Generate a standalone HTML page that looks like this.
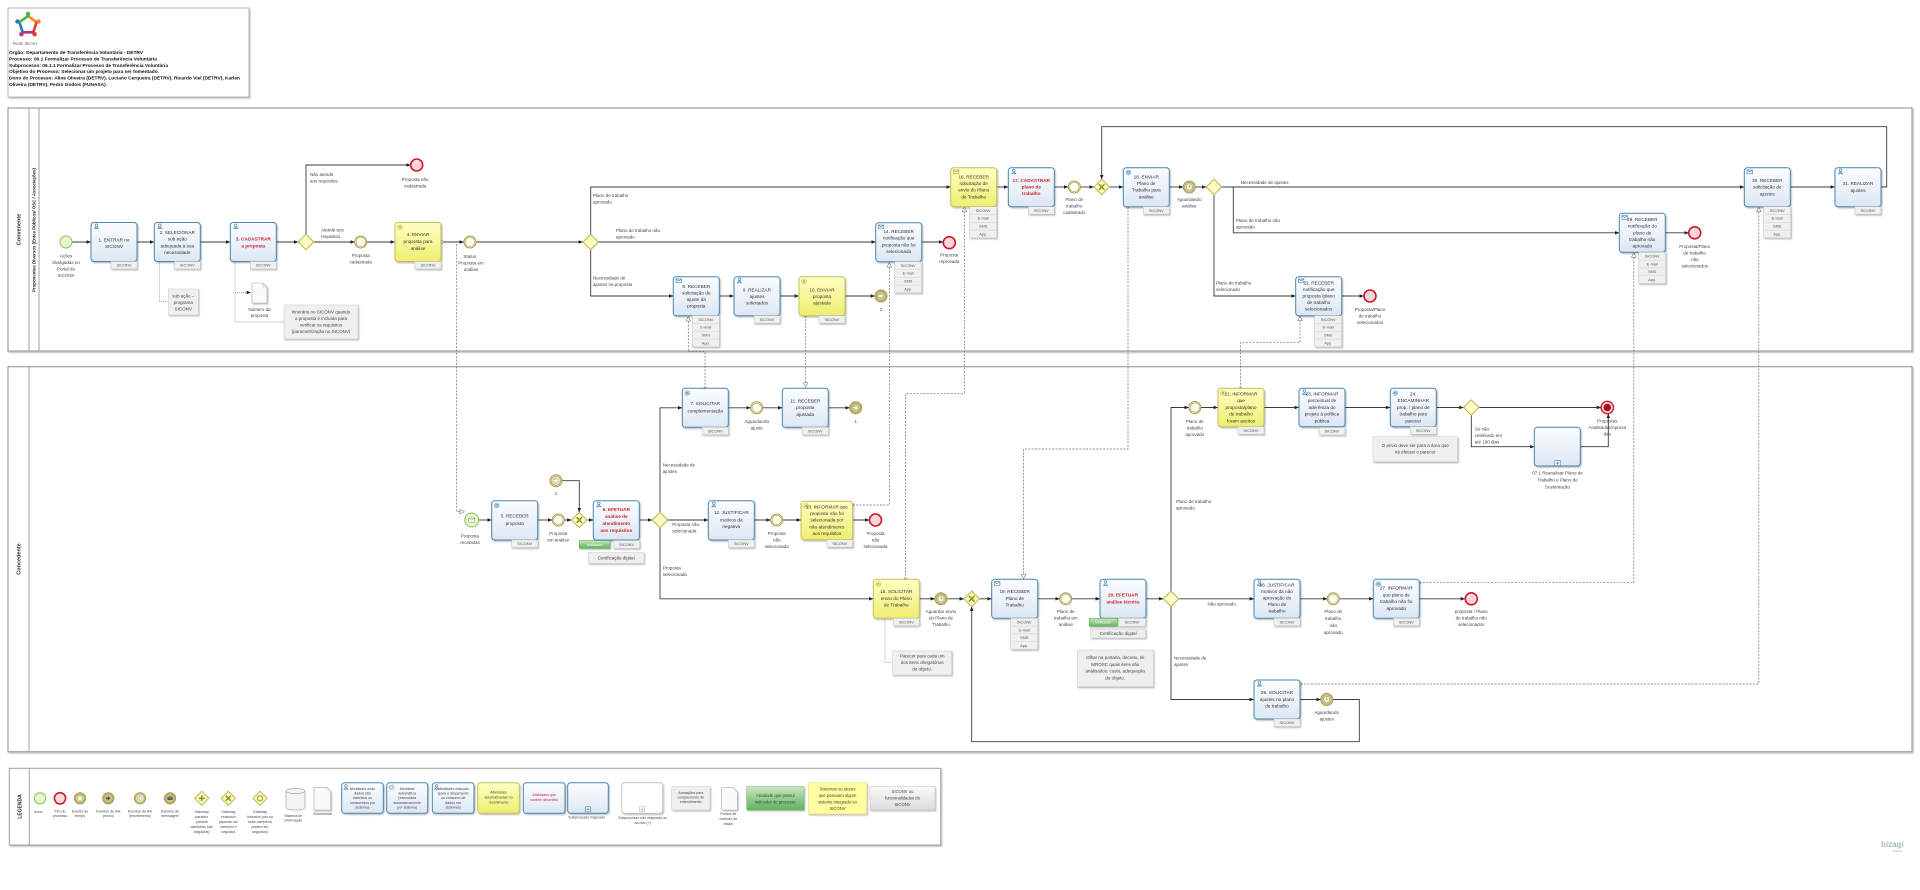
<!DOCTYPE html>
<html><head><meta charset="utf-8"><style>
html,body{margin:0;padding:0;background:#fff;width:1920px;height:890px;overflow:hidden}
svg{display:block}
text{font-family:"Liberation Sans",sans-serif}
.t{fill:url(#gb);stroke:#4a85ae;stroke-width:1}
.ty{fill:url(#gy);stroke:#c4bf5c;stroke-width:1}
.tag{fill:#f0f0f0;stroke:#bdbdbd;stroke-width:.5}
.tx{font-size:4.7px;fill:#333;text-anchor:middle}
.tr{fill:#d3202b;font-weight:bold}
.lb{font-size:4.5px;fill:#444;text-anchor:middle}
.ll{font-size:4.5px;fill:#444;text-anchor:start}
.tg{font-size:3.9px;fill:#555;text-anchor:middle}
.sf{fill:none;stroke:#3a3a3a;stroke-width:.9}
.mf{fill:none;stroke:#6a6a6a;stroke-width:.7;stroke-dasharray:2 1.4}
.as{fill:none;stroke:#888;stroke-width:.7;stroke-dasharray:1 1}
.gw{fill:#fffcc6;stroke:#b9b24a;stroke-width:1}
.ev{fill:#fbfbee;stroke:#a59c4c;stroke-width:1}
.evi{fill:none;stroke:#a59c4c;stroke-width:.6}
.evt{fill:#d8d3a2;stroke:#a59c4c;stroke-width:1}
.st{fill:#e6f6cd;stroke:#8cc063;stroke-width:1}
.en{fill:#fbd6da;stroke:#cc1a2c;stroke-width:1.6}
.nt{fill:#efefef;stroke:#c8c8c8;stroke-width:.5}
.ms{fill:#fff;stroke:#555;stroke-width:.5}
.ic{fill:none;stroke:#3d7fae;stroke-width:.6}
.icy{fill:none;stroke:#a8a43a;stroke-width:.6}
.gx{stroke:#8c9a1e;stroke-width:1.6;fill:none}
.pl{fill:#fff;stroke:#a0a0a0;stroke-width:1.2}
.lg{font-size:3.6px;fill:#444;text-anchor:middle}
.hd{font-size:4.9px;fill:#111;font-weight:bold}
</style></head><body>
<svg width="1920" height="890" viewBox="0 0 1920 890" xmlns="http://www.w3.org/2000/svg">
<defs>
<linearGradient id="gb" x1="0" y1="0" x2="0" y2="1"><stop offset="0" stop-color="#fbfdff"/><stop offset="1" stop-color="#dce7f4"/></linearGradient>
<linearGradient id="gy" x1="0" y1="0" x2="0" y2="1"><stop offset="0" stop-color="#ffffc4"/><stop offset="1" stop-color="#eeee70"/></linearGradient>
<linearGradient id="gg" x1="0" y1="0" x2="0" y2="1"><stop offset="0" stop-color="#c9e8c0"/><stop offset="1" stop-color="#5db35c"/></linearGradient>
<linearGradient id="gs" x1="0" y1="0" x2="0" y2="1"><stop offset="0" stop-color="#fafafa"/><stop offset="1" stop-color="#dcdcdc"/></linearGradient>
<filter id="ds" x="-20%" y="-20%" width="150%" height="150%"><feDropShadow dx="1" dy="1.2" stdDeviation=".7" flood-color="#000" flood-opacity=".28"/></filter>
<marker id="a" markerWidth="4.5" markerHeight="3.6" refX="4.4" refY="1.8" orient="auto" markerUnits="userSpaceOnUse"><path d="M0,0 L4.5,1.8 L0,3.6 z" fill="#222"/></marker>
<marker id="m" markerWidth="5.5" markerHeight="5.5" refX="5" refY="2.75" orient="auto" markerUnits="userSpaceOnUse"><path d="M0.4,0.4 L5,2.75 L0.4,5.1 z" fill="#fff" stroke="#555" stroke-width=".5"/></marker>
</defs>

<!-- HEADER -->
<rect x="8" y="8" width="241" height="89" fill="#fff" stroke="#a8a8a8" stroke-width=".8" filter="url(#ds)"/>
<g stroke-linecap="round" stroke-width="2.6">
<line x1="28" y1="16" x2="36.6" y2="22.2" stroke="#f08a24"/>
<line x1="36.6" y1="22.2" x2="33.3" y2="32.3" stroke="#e23b2e"/>
<line x1="33.3" y1="32.3" x2="22.7" y2="32.3" stroke="#b8327e"/>
<line x1="22.7" y1="32.3" x2="19.4" y2="22.2" stroke="#2c78c0"/>
<line x1="19.4" y1="22.2" x2="28" y2="16" stroke="#4cae4c"/>
</g>
<circle cx="28" cy="14" r="2.2" fill="#4cae4c"/><circle cx="38.6" cy="21.5" r="2.2" fill="#f08a24"/><circle cx="34.6" cy="34.2" r="2.2" fill="#e23b2e"/><circle cx="21.4" cy="34.2" r="2.2" fill="#b8327e"/><circle cx="17.4" cy="21.5" r="2.2" fill="#2c78c0"/>
<text x="13" y="45" font-size="4.3" fill="#666">Rede Siconv</text>
<text class="hd" x="9" y="54" textLength="134" lengthAdjust="spacingAndGlyphs">Órgão: Departamento de Transferência Voluntária - DETRV</text>
<text class="hd" x="9" y="60.4" textLength="148" lengthAdjust="spacingAndGlyphs">Processo: 06.1 Formalizar Processo de Transferência Voluntária</text>
<text class="hd" x="9" y="66.8" textLength="159" lengthAdjust="spacingAndGlyphs">Subprocesso: 06.1.1 Formalizar Processo de Transferência Voluntária</text>
<text class="hd" x="9" y="73.2" textLength="150" lengthAdjust="spacingAndGlyphs">Objetivo do Processo: Selecionar um projeto para ser fomentado.</text>
<text class="hd" x="9" y="79.6" textLength="231" lengthAdjust="spacingAndGlyphs">Dono do Processo: Aline Oliveira (DETRV), Luciano Cerqueira (DETRV), Ricardo Viel (DETRV), Karlen</text>
<text class="hd" x="9" y="86" textLength="98" lengthAdjust="spacingAndGlyphs">Oliveira (DETRV), Pedro Godois (FUNASA).</text>

<!-- POOLS -->
<rect class="pl" x="8" y="108" width="1904" height="243" filter="url(#ds)"/>
<line x1="29" y1="108" x2="29" y2="351" stroke="#a0a0a0" stroke-width="1"/>
<line x1="39" y1="108" x2="39" y2="351" stroke="#a0a0a0" stroke-width="1"/>
<text transform="translate(20.3,229.5) rotate(-90)" text-anchor="middle" font-size="5.5" font-weight="bold" fill="#222">Convenente</text>
<text transform="translate(35.6,230) rotate(-90)" text-anchor="middle" font-size="4.2" font-weight="bold" fill="#222" textLength="124" lengthAdjust="spacingAndGlyphs">Proponentes Diversos (Entes Públicos/ OSC / Associações)</text>
<rect class="pl" x="8" y="366.7" width="1904" height="385" filter="url(#ds)"/>
<line x1="29" y1="366.7" x2="29" y2="751.7" stroke="#a0a0a0" stroke-width="1"/>
<text transform="translate(20.3,559) rotate(-90)" text-anchor="middle" font-size="5.5" font-weight="bold" fill="#222">Concedente</text>

<!-- SEQUENCE FLOWS -->
<g class="sf" marker-end="url(#a)">
<path d="M72 242 H91"/><path d="M137 242 H154.3"/><path d="M200.3 242 H230.3"/><path d="M276.3 242 H298.3"/>
<path d="M306 234.3 V165 H410.7"/><path d="M313.7 242 H354.7"/><path d="M366.7 242 H395"/><path d="M441 242 H464"/>
<path d="M476 242 H583"/><path d="M590.7 234.3 V187 H950.7"/><path d="M598.4 242 H875.7"/><path d="M590.7 249.7 V296 H673.3"/>
<path d="M719.3 296 H734"/><path d="M780 296 H799"/><path d="M845 296 H875"/><path d="M921.7 242 H943.3"/>
<path d="M996.7 187 H1008.3"/><path d="M1054.3 187 H1068.3"/><path d="M1080.3 187 H1094"/>
<path d="M1881 187 H1886.7 V126.7 H1101.7 V179.3"/>
<path d="M1109.4 187 H1123.3"/><path d="M1169.3 187 H1183.3"/><path d="M1195.3 187 H1206.3"/><path d="M1221.7 187 H1744.3"/>
<path d="M1233.3 187 V232.8 H1619.3"/><path d="M1214 194.7 V296 H1295.7"/><path d="M1341.7 296 H1364"/>
<path d="M1665.7 232.8 H1688.7"/><path d="M1790.7 187 H1835"/>
<path d="M478.7 520 H491.7"/><path d="M537.7 520 H552.3"/><path d="M564.3 520 H571.6"/><path d="M562 480.7 H579.3 V512.3"/>
<path d="M587 520 H593.3"/><path d="M639.3 520 H652.3"/><path d="M667.7 520 H708.3"/>
<path d="M660 512.3 V407.8 H682.3"/><path d="M660 527.7 V598.8 H873.3"/>
<path d="M728.3 407.8 H750.7"/><path d="M762.7 407.8 H782.3"/><path d="M828.3 407.8 H849.7"/>
<path d="M754.3 520 H770.7"/><path d="M782.7 520 H801"/><path d="M852.7 520 H869.5"/>
<path d="M919.3 598.8 H935"/><path d="M947 598.8 H964"/><path d="M979.4 598.8 H991.7"/><path d="M1037.7 598.8 H1059.7"/>
<path d="M1071.7 598.8 H1100"/><path d="M1146 598.8 H1163.3"/><path d="M1178.7 598.8 H1254"/>
<path d="M1171 591.1 V407.5 H1188.8"/><path d="M1200.8 407.5 H1218"/><path d="M1264 407.5 H1299"/><path d="M1345 407.5 H1390.3"/>
<path d="M1436.3 407.5 H1463.6"/><path d="M1479 407.5 H1601.1"/><path d="M1471.3 415.2 V446.7 H1534.3"/><path d="M1580.3 446.7 H1608.3 V413.7"/>
<path d="M1300 598.8 H1327.3"/><path d="M1339.3 598.8 H1373.3"/><path d="M1419.3 598.8 H1465.1"/>
<path d="M1171 606.5 V699.5 H1254"/><path d="M1300 699.5 H1320.7"/>
<path d="M1332.7 699.5 H1359.3 V741.7 H971.7 V606.5"/>
</g>

<!-- MESSAGE FLOWS -->
<g class="mf" marker-end="url(#m)">
<path d="M456.7 244 V511.7 H464.5"/>
<path d="M852.7 505 H889.3 V262.5"/>
<path d="M705 388.3 V351.7 H688.3 V316.5"/>
<path d="M805.7 315.7 V387.3"/>
<path d="M905.5 579.3 V393.3 H964.4 V207.2"/>
<path d="M1128 206.7 V449 H1023.6 V578.8"/>
<path d="M1240.6 388.3 V342.7 H1300 V316.2"/>
<path d="M1419.6 582.7 H1633.8 V252.8"/>
<path d="M1300.7 684 H1758.8 V207.2"/>
</g>
<g class="ms"><circle cx="442.5" cy="242" r="1.3"/><circle cx="852.7" cy="505" r="1.3"/><circle cx="705" cy="388.3" r="1.3"/><circle cx="805.7" cy="315.7" r="1.3"/><circle cx="905.5" cy="579.3" r="1.3"/><circle cx="1128" cy="206.7" r="1.3"/><circle cx="1240.6" cy="388.3" r="1.3"/><circle cx="1419.6" cy="582.7" r="1.3"/><circle cx="1300.7" cy="684" r="1.3"/></g>

<!-- ASSOCIATIONS -->
<path class="as" d="M159.3 261.5 V301.7 H168.3"/>
<path class="as" d="M235 261.5 V322 H284"/>
<path class="as" d="M235 292.5 H251" marker-end="url(#a)"/>
<path class="as" d="M885 618.3 V662.7 H892.7"/>

<!-- TOP: events & gateways -->
<circle class="st" cx="66" cy="242" r="6"/>
<text class="lb"><tspan x="66" y="257.5">Ações</tspan><tspan x="66" y="264">divulgadas no</tspan><tspan x="66" y="270.5">Portal do</tspan><tspan x="66" y="277">SICONV</tspan></text>
<path class="gw" d="M306 234.3 L313.7 242 L306 249.7 L298.3 242 Z"/>
<text class="ll"><tspan x="310" y="176">Não atende</tspan><tspan x="310" y="182.5">aos requisitos</tspan></text>
<text class="ll"><tspan x="321" y="231.5">Atende aos</tspan><tspan x="321" y="238">requisitos</tspan></text>
<circle class="en" cx="416.7" cy="165" r="6"/>
<text class="lb"><tspan x="415" y="181">Proposta não</tspan><tspan x="415" y="187.5">cadastrada</tspan></text>
<circle class="ev" cx="360.7" cy="242" r="6"/><circle class="evi" cx="360.7" cy="242" r="4.7"/>
<text class="lb"><tspan x="360.7" y="257">Proposta</tspan><tspan x="360.7" y="263.5">cadastrada</tspan></text>
<circle class="ev" cx="470" cy="242" r="6"/><circle class="evi" cx="470" cy="242" r="4.7"/>
<text class="lb"><tspan x="471" y="258">Status :</tspan><tspan x="471" y="264.5">Proposta em</tspan><tspan x="471" y="271">análise</tspan></text>
<path class="gw" d="M590.7 234.3 L598.4 242 L590.7 249.7 L583 242 Z"/>
<text class="ll"><tspan x="593" y="197">Plano de trabalho</tspan><tspan x="593" y="203.5">aprovado</tspan></text>
<text class="ll"><tspan x="616" y="232">Plano de trabalho não</tspan><tspan x="616" y="238.5">aprovado</tspan></text>
<text class="ll"><tspan x="593" y="279.5">Necessidade de</tspan><tspan x="593" y="286">ajustes na proposta</tspan></text>
<circle cx="881" cy="296" r="6" fill="#cbc58c" stroke="#a59c4c" stroke-width="1"/><circle class="evi" cx="881" cy="296" r="4.7"/>
<path d="M878 295 h2.5 v-1.8 l3 2.8 l-3 2.8 v-1.8 h-2.5 z" fill="#fff" stroke="#8a8240" stroke-width=".3"/>
<text class="lb" x="881" y="311">2</text>
<circle class="en" cx="949.3" cy="242.7" r="6"/>
<text class="lb"><tspan x="949.3" y="256.5">Proposta</tspan><tspan x="949.3" y="263">reprovada</tspan></text>
<circle class="ev" cx="1074.3" cy="187" r="6"/><circle class="evi" cx="1074.3" cy="187" r="4.7"/>
<text class="lb"><tspan x="1074.3" y="201">Plano de</tspan><tspan x="1074.3" y="207.5">trabalho</tspan><tspan x="1074.3" y="214">cadastrado</tspan></text>
<path class="gw" d="M1101.7 179.3 L1109.4 187 L1101.7 194.7 L1094 187 Z"/>
<path class="gx" d="M1098.9 184.2 L1104.5 189.8 M1104.5 184.2 L1098.9 189.8"/>
<circle class="evt" cx="1189.3" cy="187" r="6"/><circle class="evi" cx="1189.3" cy="187" r="4.7"/><circle cx="1189.3" cy="187" r="3.1" fill="#f3f1dc" stroke="#8a8040" stroke-width=".4"/><path d="M1189.3 185 V187 H1190.8" stroke="#6a6030" stroke-width=".4" fill="none"/>
<text class="lb"><tspan x="1189.3" y="201">Aguardando</tspan><tspan x="1189.3" y="207.5">análise</tspan></text>
<path class="gw" d="M1214 179.3 L1221.7 187 L1214 194.7 L1206.3 187 Z"/>
<text class="ll" x="1240.7" y="184">Necessidade de ajustes</text>
<text class="ll"><tspan x="1236" y="222">Plano de trabalho não</tspan><tspan x="1236" y="228.5">aprovado</tspan></text>
<text class="ll"><tspan x="1216" y="284.5">Plano de trabalho</tspan><tspan x="1216" y="291">selecionado</tspan></text>
<circle class="en" cx="1370" cy="296" r="6"/>
<text class="lb"><tspan x="1370" y="311">Proposta/Plano</tspan><tspan x="1370" y="317.5">de trabalho</tspan><tspan x="1370" y="324">selecionados</tspan></text>
<circle class="en" cx="1694.7" cy="232.8" r="6"/>
<text class="lb"><tspan x="1694.7" y="248">Proposta/Plano</tspan><tspan x="1694.7" y="254.5">de trabalho</tspan><tspan x="1694.7" y="261">não</tspan><tspan x="1694.7" y="267.5">selecionados</tspan></text>

<!-- TOP annotations -->
<rect class="nt" x="168.3" y="289" width="30" height="26" filter="url(#ds)"/>
<text class="lb"><tspan x="183.3" y="297.5">sub ação –</tspan><tspan x="183.3" y="304">programa</tspan><tspan x="183.3" y="310.5">SICONV</tspan></text>
<path d="M252 283 H263 L267 287 V303 H252 Z" fill="#fafafa" stroke="#aaa" stroke-width=".6" filter="url(#ds)"/><path d="M263 283 V287 H267" fill="none" stroke="#aaa" stroke-width=".5"/>
<text class="lb"><tspan x="259.5" y="311">Número da</tspan><tspan x="259.5" y="317">proposta</tspan></text>
<rect class="nt" x="284" y="305" width="74" height="34" filter="url(#ds)"/>
<text class="lb"><tspan x="321" y="313.5">Itinerário no SICONV quando</tspan><tspan x="321" y="320">a proposta é incluída para</tspan><tspan x="321" y="326.5">verificar os requisitos</tspan><tspan x="321" y="333">(parametrização no SICONV)</tspan></text>

<!-- TOP TASKS -->
<g filter="url(#ds)">
<rect class="t" x="91" y="222.5" width="46" height="39" rx="3"/>
<rect class="t" x="154.3" y="222.5" width="46" height="39" rx="3"/>
<rect class="t" x="230.3" y="222.5" width="46" height="39" rx="3"/>
<rect class="ty" x="395" y="222.5" width="46" height="39" rx="3"/>
<rect class="t" x="673.3" y="276.7" width="46" height="39" rx="3"/>
<rect class="t" x="734" y="276.7" width="46" height="39" rx="3"/>
<rect class="ty" x="799" y="276.7" width="46" height="39" rx="3"/>
<rect class="t" x="875.7" y="222.7" width="46" height="39" rx="3"/>
<rect class="ty" x="950.7" y="167.7" width="46" height="39" rx="3"/>
<rect class="t" x="1008.3" y="167.7" width="46" height="39" rx="3"/>
<rect class="t" x="1123.3" y="167.7" width="46" height="39" rx="3"/>
<rect class="t" x="1295.7" y="276.7" width="46" height="39" rx="3"/>
<rect class="t" x="1619.3" y="213.3" width="46" height="39" rx="3"/>
<rect class="t" x="1744.3" y="167.7" width="46" height="39" rx="3"/>
<rect class="t" x="1835" y="167.7" width="46" height="39" rx="3"/>
</g>
<!-- icons top -->
<g class="ic">
<circle cx="96.5" cy="225.2" r="1.3"/><path d="M94.4 228.6 Q96.5 225.8 98.6 228.6 Z"/>
<circle cx="159.8" cy="225.2" r="1.3"/><path d="M157.7 228.6 Q159.8 225.8 161.9 228.6 Z"/>
<circle cx="235.8" cy="225.2" r="1.3"/><path d="M233.7 228.6 Q235.8 225.8 237.9 228.6 Z"/>
<rect x="676" y="279" width="5.5" height="3.8"/><path d="M676 279 l2.75 2 l2.75 -2"/>
<circle cx="739.5" cy="279.4" r="1.3"/><path d="M737.4 282.8 Q739.5 280 741.6 282.8 Z"/>
<rect x="878.4" y="225" width="5.5" height="3.8"/><path d="M878.4 225 l2.75 2 l2.75 -2"/>
<circle cx="1013.8" cy="170.4" r="1.3"/><path d="M1011.7 173.8 Q1013.8 171 1015.9 173.8 Z"/>
<circle cx="1128.5" cy="172.5" r="2.4" fill="#cfe0ef" stroke-dasharray="1 .6"/><circle cx="1128.5" cy="172.5" r=".9"/>
<rect x="1298.4" y="279" width="5.5" height="3.8"/><path d="M1298.4 279 l2.75 2 l2.75 -2"/>
<rect x="1622" y="215.6" width="5.5" height="3.8"/><path d="M1622 215.6 l2.75 2 l2.75 -2"/>
<rect x="1747" y="170" width="5.5" height="3.8"/><path d="M1747 170 l2.75 2 l2.75 -2"/>
<circle cx="1840.5" cy="170.4" r="1.3"/><path d="M1838.4 173.8 Q1840.5 171 1842.6 173.8 Z"/>
</g>
<g class="icy">
<circle cx="400" cy="227.3" r="2.4" fill="#f4f0a0" stroke-dasharray="1 .6"/><circle cx="400" cy="227.3" r=".9"/>
<circle cx="804" cy="281.5" r="2.4" fill="#f4f0a0" stroke-dasharray="1 .6"/><circle cx="804" cy="281.5" r=".9"/>
<rect x="953.4" y="170" width="5.5" height="3.8"/><path d="M953.4 170 l2.75 2 l2.75 -2"/>
</g>
<!-- top task text -->
<text class="tx"><tspan x="114" y="241.5">1. ENTRAR no</tspan><tspan x="114" y="248">SICONV</tspan></text>
<text class="tx"><tspan x="177.3" y="234">2. SELECIONAR</tspan><tspan x="177.3" y="240.5">sub ação</tspan><tspan x="177.3" y="247.5">adequada à sua</tspan><tspan x="177.3" y="254.2">necessidade</tspan></text>
<text class="tx tr"><tspan x="253.3" y="240.5">3. CADASTRAR</tspan><tspan x="253.3" y="247.5">a proposta</tspan></text>
<text class="tx"><tspan x="418" y="235.8">4. ENVIAR</tspan><tspan x="418" y="242.8">proposta para</tspan><tspan x="418" y="249.8">análise</tspan></text>
<text class="tx"><tspan x="696.3" y="288">8. RECEBER</tspan><tspan x="696.3" y="294.5">solicitação de</tspan><tspan x="696.3" y="301">ajuste da</tspan><tspan x="696.3" y="307.5">proposta</tspan></text>
<text class="tx"><tspan x="757" y="291.5">9. REALIZAR</tspan><tspan x="757" y="298">ajustes</tspan><tspan x="757" y="304.5">solicitados</tspan></text>
<text class="tx"><tspan x="822" y="291.5">10. ENVIAR</tspan><tspan x="822" y="298">proposta</tspan><tspan x="822" y="304.5">ajustada</tspan></text>
<text class="tx"><tspan x="898.7" y="233">14. RECEBER</tspan><tspan x="898.7" y="239.5">notificação que</tspan><tspan x="898.7" y="246.3">proposta não foi</tspan><tspan x="898.7" y="253">selecionada</tspan></text>
<text class="tx"><tspan x="973.7" y="178.5">16. RECEBER</tspan><tspan x="973.7" y="185">solicitação de</tspan><tspan x="973.7" y="191.7">envio do Plano</tspan><tspan x="973.7" y="198.5">de Trabalho</tspan></text>
<text class="tx tr"><tspan x="1031.3" y="182">17. CADASTRAR</tspan><tspan x="1031.3" y="188.5">plano de</tspan><tspan x="1031.3" y="195">trabalho</tspan></text>
<text class="tx"><tspan x="1146.3" y="178.5">18. ENVIAR</tspan><tspan x="1146.3" y="185">Plano de</tspan><tspan x="1146.3" y="191.7">Trabalho  para</tspan><tspan x="1146.3" y="198.5">análise</tspan></text>
<text class="tx"><tspan x="1318.7" y="284.5">22. RECEBER</tspan><tspan x="1318.7" y="291">notificação que</tspan><tspan x="1318.7" y="297.5">proposta /plano</tspan><tspan x="1318.7" y="304.1">de trabalho</tspan><tspan x="1318.7" y="310.7">selecionados</tspan></text>
<text class="tx"><tspan x="1642.3" y="221">28. RECEBER</tspan><tspan x="1642.3" y="227.5">notificação do</tspan><tspan x="1642.3" y="234.3">plano de</tspan><tspan x="1642.3" y="241">trabalho não</tspan><tspan x="1642.3" y="247.7">aprovado</tspan></text>
<text class="tx"><tspan x="1767.3" y="182">30. RECEBER</tspan><tspan x="1767.3" y="188.5">solicitação de</tspan><tspan x="1767.3" y="195.5">ajustes</tspan></text>
<text class="tx"><tspan x="1858" y="185">31. REALIZAR</tspan><tspan x="1858" y="192">ajustes</tspan></text>

<!-- TOP TAGS -->
<g filter="url(#ds)">
<rect class="tag" x="111" y="261.5" width="26" height="7.5"/>
<rect class="tag" x="174.3" y="261.5" width="26" height="7.5"/>
<rect class="tag" x="250.3" y="261.5" width="26" height="7.5"/>
<rect class="tag" x="415" y="261.5" width="26" height="7.5"/>
<rect class="tag" x="692.3" y="315.7" width="27" height="31.2"/>
<rect class="tag" x="754" y="315.7" width="26" height="7.5"/>
<rect class="tag" x="819" y="315.7" width="26" height="7.5"/>
<rect class="tag" x="894.7" y="261.7" width="27" height="31.2"/>
<rect class="tag" x="969.7" y="206.7" width="27" height="31.2"/>
<rect class="tag" x="1028.3" y="206.7" width="26" height="7.5"/>
<rect class="tag" x="1143.3" y="206.7" width="26" height="7.5"/>
<rect class="tag" x="1314.7" y="315.7" width="27" height="31.2"/>
<rect class="tag" x="1638.7" y="252.3" width="27" height="31.2"/>
<rect class="tag" x="1763.7" y="206.7" width="27" height="31.2"/>
<rect class="tag" x="1855" y="206.7" width="26" height="7.5"/>
</g>
<g stroke="#c8c8c8" stroke-width=".4">
<path d="M692.3 323.5 H719.3 M692.3 331.3 H719.3 M692.3 339.1 H719.3"/>
<path d="M894.7 269.5 H921.7 M894.7 277.3 H921.7 M894.7 285.1 H921.7"/>
<path d="M969.7 214.5 H996.7 M969.7 222.3 H996.7 M969.7 230.1 H996.7"/>
<path d="M1314.7 323.5 H1341.7 M1314.7 331.3 H1341.7 M1314.7 339.1 H1341.7"/>
<path d="M1638.7 260.1 H1665.7 M1638.7 267.9 H1665.7 M1638.7 275.7 H1665.7"/>
<path d="M1763.7 214.5 H1790.7 M1763.7 222.3 H1790.7 M1763.7 230.1 H1790.7"/>
</g>
<g class="tg">
<text x="124" y="266.6">SICONV</text><text x="187.3" y="266.6">SICONV</text><text x="263.3" y="266.6">SICONV</text><text x="428" y="266.6">SICONV</text>
<text x="705.8" y="320.9">SICONV</text><text x="705.8" y="328.7">E-mail</text><text x="705.8" y="336.5">SMS</text><text x="705.8" y="344.3">App.</text>
<text x="767" y="320.8">SICONV</text><text x="832" y="320.8">SICONV</text>
<text x="908.2" y="266.9">SICONV</text><text x="908.2" y="274.7">E-mail</text><text x="908.2" y="282.5">SMS</text><text x="908.2" y="290.3">App.</text>
<text x="983.2" y="211.9">SICONV</text><text x="983.2" y="219.7">E-mail</text><text x="983.2" y="227.5">SMS</text><text x="983.2" y="235.3">App.</text>
<text x="1041.3" y="211.8">SICONV</text><text x="1156.3" y="211.8">SICONV</text>
<text x="1328.2" y="320.9">SICONV</text><text x="1328.2" y="328.7">E-mail</text><text x="1328.2" y="336.5">SMS</text><text x="1328.2" y="344.3">App.</text>
<text x="1652.2" y="257.5">SICONV</text><text x="1652.2" y="265.3">E-mail</text><text x="1652.2" y="273.1">SMS</text><text x="1652.2" y="280.9">App.</text>
<text x="1777.2" y="211.9">SICONV</text><text x="1777.2" y="219.7">E-mail</text><text x="1777.2" y="227.5">SMS</text><text x="1777.2" y="235.3">App.</text>
<text x="1868" y="211.8">SICONV</text>
</g>

<!-- BOTTOM events & gateways -->
<circle class="st" cx="471.7" cy="520" r="7"/><rect x="468.7" y="518" width="6" height="4.2" fill="#fff" stroke="#6a9a40" stroke-width=".5"/><path d="M468.7 518 l3 2.2 l3 -2.2" fill="none" stroke="#6a9a40" stroke-width=".5"/>
<text class="lb"><tspan x="470" y="537.5">Proposta</tspan><tspan x="470" y="544">recebidas</tspan></text>
<circle class="ev" cx="558.3" cy="520" r="6"/><circle class="evi" cx="558.3" cy="520" r="4.7"/>
<text class="lb"><tspan x="558.3" y="535">Proposta</tspan><tspan x="558.3" y="541.5">em análise</tspan></text>
<path class="gw" d="M579.3 512.3 L587 520 L579.3 527.7 L571.6 520 Z"/>
<path class="gx" d="M576.5 517.2 L582.1 522.8 M582.1 517.2 L576.5 522.8"/>
<circle cx="556" cy="480.7" r="6" fill="#e6e2bd" stroke="#a59c4c" stroke-width="1"/><circle class="evi" cx="556" cy="480.7" r="4.7"/>
<path d="M553 479.7 h2.5 v-1.8 l3 2.8 l-3 2.8 v-1.8 h-2.5 z" fill="#fff" stroke="#8a8240" stroke-width=".3"/>
<text class="lb" x="556" y="495">1</text>
<path class="gw" d="M660 512.3 L667.7 520 L660 527.7 L652.3 520 Z"/>
<text class="ll"><tspan x="672.3" y="526">Proposta não</tspan><tspan x="672.3" y="532.5">selecionada</tspan></text>
<text class="ll"><tspan x="662.7" y="466.5">Necessidade de</tspan><tspan x="662.7" y="473">ajustes</tspan></text>
<text class="ll"><tspan x="662.7" y="569.5">Proposta</tspan><tspan x="662.7" y="576">selecionada</tspan></text>
<circle class="ev" cx="756.7" cy="407.8" r="6"/><circle class="evi" cx="756.7" cy="407.8" r="4.7"/>
<text class="lb"><tspan x="756.7" y="423">Aguardando</tspan><tspan x="756.7" y="429.5">ajuste</tspan></text>
<circle cx="855.7" cy="407.8" r="6" fill="#cbc58c" stroke="#a59c4c" stroke-width="1"/><circle class="evi" cx="855.7" cy="407.8" r="4.7"/>
<path d="M852.7 406.8 h2.5 v-1.8 l3 2.8 l-3 2.8 v-1.8 h-2.5 z" fill="#fff" stroke="#8a8240" stroke-width=".3"/>
<text class="lb" x="855.7" y="423">1</text>
<circle class="ev" cx="776.7" cy="520" r="6"/><circle class="evi" cx="776.7" cy="520" r="4.7"/>
<text class="lb"><tspan x="776.7" y="535">Proposta</tspan><tspan x="776.7" y="541.5">não</tspan><tspan x="776.7" y="548">selecionada</tspan></text>
<circle class="en" cx="875.5" cy="520" r="6"/>
<text class="lb"><tspan x="875.5" y="535">Proposta</tspan><tspan x="875.5" y="541.5">não</tspan><tspan x="875.5" y="548">selecionada</tspan></text>
<circle class="evt" cx="941" cy="598.8" r="6"/><circle class="evi" cx="941" cy="598.8" r="4.7"/><circle cx="941" cy="598.8" r="3.1" fill="#f3f1dc" stroke="#8a8040" stroke-width=".4"/><path d="M941 596.8 V598.8 H942.5" stroke="#6a6030" stroke-width=".4" fill="none"/>
<text class="lb"><tspan x="941" y="613">Aguardar envio</tspan><tspan x="941" y="619.5">do Plano de</tspan><tspan x="941" y="626">Trabalho</tspan></text>
<path class="gw" d="M971.7 591.1 L979.4 598.8 L971.7 606.5 L964 598.8 Z"/>
<path class="gx" d="M968.9 596 L974.5 601.6 M974.5 596 L968.9 601.6"/>
<circle class="ev" cx="1065.7" cy="598.8" r="6"/><circle class="evi" cx="1065.7" cy="598.8" r="4.7"/>
<text class="lb"><tspan x="1065.7" y="613">Plano de</tspan><tspan x="1065.7" y="619.5">trabalho em</tspan><tspan x="1065.7" y="626">análise</tspan></text>
<path class="gw" d="M1171 591.1 L1178.7 598.8 L1171 606.5 L1163.3 598.8 Z"/>
<text class="lb" x="1221.7" y="605.5">Não aprovado</text>
<text class="ll"><tspan x="1176" y="503">Plano de trabalho</tspan><tspan x="1176" y="509.5">aprovado</tspan></text>
<text class="ll"><tspan x="1174" y="659.5">Necessidade de</tspan><tspan x="1174" y="666">ajustes</tspan></text>
<circle class="ev" cx="1194.8" cy="407.5" r="6"/><circle class="evi" cx="1194.8" cy="407.5" r="4.7"/>
<text class="lb"><tspan x="1194.8" y="423">Plano de</tspan><tspan x="1194.8" y="429.5">trabalho</tspan><tspan x="1194.8" y="436">aprovado</tspan></text>
<path class="gw" d="M1471.3 399.8 L1479 407.5 L1471.3 415.2 L1463.6 407.5 Z"/>
<circle cx="1607.3" cy="407.5" r="6.2" fill="#fbd6da" stroke="#cc1a2c" stroke-width="1.4"/><circle cx="1607.3" cy="407.5" r="3.8" fill="#a8101c"/>
<text class="lb"><tspan x="1607.3" y="422.5">Propostas</tspan><tspan x="1607.3" y="429">Analisadas/Aprova</tspan><tspan x="1607.3" y="435.5">das</tspan></text>
<text class="ll"><tspan x="1474.7" y="430.5">Se não</tspan><tspan x="1474.7" y="437">celebrado em</tspan><tspan x="1474.7" y="443.5">até 180 dias</tspan></text>
<circle class="ev" cx="1333.3" cy="598.8" r="6"/><circle class="evi" cx="1333.3" cy="598.8" r="4.7"/>
<text class="lb"><tspan x="1333.3" y="613">Plano de</tspan><tspan x="1333.3" y="620">trabalho</tspan><tspan x="1333.3" y="627">não</tspan><tspan x="1333.3" y="634">aprovado</tspan></text>
<circle class="en" cx="1471.3" cy="598.8" r="6"/>
<text class="lb"><tspan x="1471.3" y="613">proposta / Plano</tspan><tspan x="1471.3" y="619.5">de trabalho não</tspan><tspan x="1471.3" y="626">selecionados</tspan></text>
<circle class="evt" cx="1326.7" cy="699.5" r="6"/><circle class="evi" cx="1326.7" cy="699.5" r="4.7"/><circle cx="1326.7" cy="699.5" r="3.1" fill="#f3f1dc" stroke="#8a8040" stroke-width=".4"/><path d="M1326.7 697.5 V699.5 H1328.2" stroke="#6a6030" stroke-width=".4" fill="none"/>
<text class="lb"><tspan x="1326.7" y="714">Aguardando</tspan><tspan x="1326.7" y="720.5">ajustes</tspan></text>

<!-- BOTTOM notes -->
<rect class="nt" x="588.3" y="552.7" width="55.7" height="10.6" filter="url(#ds)"/>
<text class="lb" x="616.2" y="559.6">Certificação digital</text>
<rect class="nt" x="1090.7" y="629" width="55" height="9" filter="url(#ds)"/>
<text class="lb" x="1118.2" y="635">Certificação digital</text>
<rect class="nt" x="892.7" y="651" width="59" height="24" filter="url(#ds)"/>
<text class="lb"><tspan x="922.2" y="657.5">Parecer para cada um</tspan><tspan x="922.2" y="664">dos itens obrigatórios</tspan><tspan x="922.2" y="670.5">do objeto.</tspan></text>
<rect class="nt" x="1077.3" y="650" width="76" height="36.7" filter="url(#ds)"/>
<text class="lb"><tspan x="1115.3" y="659">Olhar na portaria, decreto, lei</tspan><tspan x="1115.3" y="665.8">MROSC  quais itens são</tspan><tspan x="1115.3" y="672.5">analisados: custo, adequação</tspan><tspan x="1115.3" y="679.3">do objeto.</tspan></text>
<rect class="nt" x="1373" y="436.7" width="84.5" height="25" filter="url(#ds)"/>
<text class="lb"><tspan x="1415.2" y="447">O envio deve ser para a área que</tspan><tspan x="1415.2" y="453.5">irá efetuar o parecer</tspan></text>

<!-- BOTTOM TASKS -->
<g filter="url(#ds)">
<rect class="t" x="491.7" y="500.7" width="46" height="39.3" rx="3"/>
<rect class="t" x="593.3" y="500.7" width="46" height="39.3" rx="3"/>
<rect class="t" x="682.3" y="388.3" width="46" height="39" rx="3"/>
<rect class="t" x="782.3" y="388.3" width="46" height="39" rx="3"/>
<rect class="t" x="708.3" y="500.7" width="46" height="39.3" rx="3"/>
<rect class="ty" x="801" y="501.2" width="51.7" height="38.5" rx="3"/>
<rect class="ty" x="873.3" y="579.3" width="46" height="39" rx="3"/>
<rect class="t" x="991.7" y="579.3" width="46" height="39" rx="3"/>
<rect class="t" x="1100" y="579.3" width="46" height="39" rx="3"/>
<rect class="ty" x="1218" y="388.3" width="46" height="38.4" rx="3"/>
<rect class="t" x="1299" y="388.3" width="46" height="38.4" rx="3"/>
<rect class="t" x="1390.3" y="388.3" width="46" height="38.4" rx="3"/>
<rect class="t" x="1534.3" y="427.3" width="46" height="38.7" rx="3"/>
<rect class="t" x="1254" y="579.3" width="46" height="39" rx="3"/>
<rect class="t" x="1373.3" y="579.3" width="46" height="39" rx="3"/>
<rect class="t" x="1254" y="680" width="46" height="39" rx="3"/>
</g>
<rect x="1554.8" y="460.5" width="5.4" height="5.2" fill="#fff" stroke="#3d7fae" stroke-width=".6"/><path d="M1557.5 461.5 V464.7 M1555.9 463.1 H1559.1" stroke="#3d7fae" stroke-width=".7"/>
<text class="lb"><tspan x="1557.5" y="474.5">07.1 Reanalisar Plano de</tspan><tspan x="1557.5" y="481.3">Trabalho e Plano de</tspan><tspan x="1557.5" y="488.3">Sustentação</tspan></text>
<g class="ic">
<circle cx="496.7" cy="505.5" r="2.4" fill="#cfe0ef" stroke-dasharray="1 .6"/><circle cx="496.7" cy="505.5" r=".9"/>
<circle cx="598.8" cy="503.4" r="1.3"/><path d="M596.7 506.8 Q598.8 504 600.9 506.8 Z"/>
<circle cx="687.3" cy="393.1" r="2.4" fill="#cfe0ef" stroke-dasharray="1 .6"/><circle cx="687.3" cy="393.1" r=".9"/>
<circle cx="713.8" cy="503.4" r="1.3"/><path d="M711.7 506.8 Q713.8 504 715.9 506.8 Z"/>
<rect x="994.4" y="581.6" width="5.5" height="3.8"/><path d="M994.4 581.6 l2.75 2 l2.75 -2"/>
<circle cx="1105.5" cy="582" r="1.3"/><path d="M1103.4 585.4 Q1105.5 582.6 1107.6 585.4 Z"/>
<circle cx="1304.5" cy="391" r="1.3"/><path d="M1302.4 394.4 Q1304.5 391.6 1306.6 394.4 Z"/>
<circle cx="1395.3" cy="393.1" r="2.4" fill="#cfe0ef" stroke-dasharray="1 .6"/><circle cx="1395.3" cy="393.1" r=".9"/>
<circle cx="1259.5" cy="582" r="1.3"/><path d="M1257.4 585.4 Q1259.5 582.6 1261.6 585.4 Z"/>
<circle cx="1378.3" cy="584.1" r="2.4" fill="#cfe0ef" stroke-dasharray="1 .6"/><circle cx="1378.3" cy="584.1" r=".9"/>
<circle cx="1259.5" cy="682.7" r="1.3"/><path d="M1257.4 686.1 Q1259.5 683.3 1261.6 686.1 Z"/>
</g>
<g class="icy">
<circle cx="806" cy="506" r="2.4" fill="#f4f0a0" stroke-dasharray="1 .6"/><circle cx="806" cy="506" r=".9"/>
<circle cx="878.3" cy="584.1" r="2.4" fill="#f4f0a0" stroke-dasharray="1 .6"/><circle cx="878.3" cy="584.1" r=".9"/>
<circle cx="1223" cy="393.1" r="2.4" fill="#f4f0a0" stroke-dasharray="1 .6"/><circle cx="1223" cy="393.1" r=".9"/>
</g>
<text class="tx"><tspan x="514.7" y="517.5">5. RECEBER</tspan><tspan x="514.7" y="525">proposta</tspan></text>
<text class="tx tr"><tspan x="616.3" y="511">6. EFETUAR</tspan><tspan x="616.3" y="518">análise de</tspan><tspan x="616.3" y="525">atendimento</tspan><tspan x="616.3" y="532">aos requisitos</tspan></text>
<text class="tx"><tspan x="705.3" y="405">7. SOLICITAR</tspan><tspan x="705.3" y="412.5">complementação</tspan></text>
<text class="tx"><tspan x="805.3" y="402.5">11. RECEBER</tspan><tspan x="805.3" y="409.2">proposta</tspan><tspan x="805.3" y="415.8">ajustada</tspan></text>
<text class="tx"><tspan x="731.3" y="514.2">12. JUSTIFICAR</tspan><tspan x="731.3" y="521.5">motivos da</tspan><tspan x="731.3" y="528.2">negativa</tspan></text>
<text class="tx"><tspan x="826.9" y="508.5">13. INFORMAR que</tspan><tspan x="826.9" y="515.1">proposta não foi</tspan><tspan x="826.9" y="521.7">selecionada por</tspan><tspan x="826.9" y="528.3">não atendimento</tspan><tspan x="826.9" y="534.9">aos requisitos</tspan></text>
<text class="tx"><tspan x="896.3" y="593.2">15. SOLICITAR</tspan><tspan x="896.3" y="599.8">envio do Plano</tspan><tspan x="896.3" y="606.5">de Trabalho</tspan></text>
<text class="tx"><tspan x="1014.7" y="593.2">19. RECEBER</tspan><tspan x="1014.7" y="599.8">Plano de</tspan><tspan x="1014.7" y="606.5">Trabalho</tspan></text>
<text class="tx tr"><tspan x="1123" y="596.5">20. EFETUAR</tspan><tspan x="1123" y="603.5">análise técnica</tspan></text>
<text class="tx"><tspan x="1241" y="395.5">21. INFORMAR</tspan><tspan x="1241" y="402.2">que</tspan><tspan x="1241" y="408.9">proposta/plano</tspan><tspan x="1241" y="415.6">de trabalho</tspan><tspan x="1241" y="422.3">foram aceitos</tspan></text>
<text class="tx"><tspan x="1322" y="395.5">23. INFORMAR</tspan><tspan x="1322" y="402.2">percentual de</tspan><tspan x="1322" y="408.9">aderência do</tspan><tspan x="1322" y="415.6">projeto à política</tspan><tspan x="1322" y="422.3">pública</tspan></text>
<text class="tx"><tspan x="1413.3" y="395.5">24.</tspan><tspan x="1413.3" y="402.2">ENCAMINHAR</tspan><tspan x="1413.3" y="408.9">prop. / plano de</tspan><tspan x="1413.3" y="415.6">trabalho para</tspan><tspan x="1413.3" y="422.3">parecer</tspan></text>
<text class="tx"><tspan x="1277" y="586.5">26. JUSTIFICAR</tspan><tspan x="1277" y="593">motivos da não</tspan><tspan x="1277" y="599.5">aprovação do</tspan><tspan x="1277" y="606">Plano de</tspan><tspan x="1277" y="612.5">trabalho</tspan></text>
<text class="tx"><tspan x="1396.3" y="589.5">27. INFORMAR</tspan><tspan x="1396.3" y="596.5">que plano de</tspan><tspan x="1396.3" y="603.2">trabalho não foi</tspan><tspan x="1396.3" y="609.8">aprovado</tspan></text>
<text class="tx"><tspan x="1277" y="693.8">29. SOLICITAR</tspan><tspan x="1277" y="700.8">ajustes no plano</tspan><tspan x="1277" y="707.5">de trabalho</tspan></text>

<!-- BOTTOM TAGS -->
<g filter="url(#ds)">
<rect class="tag" x="511.7" y="540" width="26" height="7.5"/>
<rect x="579.3" y="540.5" width="30.7" height="7.8" fill="url(#gg)" stroke="#5a9a50" stroke-width=".5"/>
<rect class="tag" x="613.6" y="540.5" width="26" height="7.8"/>
<rect class="tag" x="702.3" y="427.3" width="26" height="7.5"/>
<rect class="tag" x="802.3" y="427.3" width="26" height="7.5"/>
<rect class="tag" x="728.3" y="540" width="26" height="7.5"/>
<rect class="tag" x="827" y="539.7" width="25.7" height="7.5"/>
<rect class="tag" x="893.3" y="618.3" width="26" height="7.5"/>
<rect class="tag" x="1010.7" y="618.3" width="27" height="31.2"/>
<rect x="1089.3" y="618.3" width="28" height="8" fill="url(#gg)" stroke="#5a9a50" stroke-width=".5"/>
<rect class="tag" x="1118.3" y="618.3" width="27.4" height="8"/>
<rect class="tag" x="1238" y="426.7" width="26" height="7.5"/>
<rect class="tag" x="1319" y="427.5" width="26" height="7.5"/>
<rect class="tag" x="1410.3" y="426.7" width="26" height="7.5"/>
<rect class="tag" x="1274" y="618.3" width="26" height="7.5"/>
<rect class="tag" x="1393.3" y="618.3" width="26" height="7.5"/>
<rect class="tag" x="1274" y="719" width="26" height="7.5"/>
</g>
<path d="M1010.7 626.1 H1037.7 M1010.7 633.9 H1037.7 M1010.7 641.7 H1037.7" stroke="#c8c8c8" stroke-width=".4"/>
<g class="tg">
<text x="524.7" y="545.1">SICONV</text>
<text x="594.7" y="545.8" fill="#fff">Indicador</text><text x="626.6" y="545.8">SICONV</text>
<text x="715.3" y="432.4">SICONV</text><text x="815.3" y="432.4">SICONV</text><text x="741.3" y="545.1">SICONV</text><text x="839.8" y="544.8">SICONV</text>
<text x="906.3" y="623.4">SICONV</text>
<text x="1024.2" y="623.5">SICONV</text><text x="1024.2" y="631.3">E-mail</text><text x="1024.2" y="639.1">SMS</text><text x="1024.2" y="646.9">App.</text>
<text x="1103.3" y="623.6" fill="#fff">Indicador</text><text x="1132" y="623.6">SICONV</text>
<text x="1251" y="431.8">SICONV</text><text x="1332" y="432.6">SICONV</text><text x="1423.3" y="431.8">SICONV</text>
<text x="1287" y="623.4">SICONV</text><text x="1406.3" y="623.4">SICONV</text><text x="1287" y="724.1">SICONV</text>
</g>

<!-- LEGEND -->
<rect x="9.3" y="768.3" width="931.4" height="76.7" fill="#fff" stroke="#a0a0a0" stroke-width="1" filter="url(#ds)"/>
<line x1="29.3" y1="768.3" x2="29.3" y2="845" stroke="#a0a0a0" stroke-width="1"/>
<text transform="translate(21.5,806.5) rotate(-90)" text-anchor="middle" font-size="5" font-weight="bold" fill="#222">LEGENDA</text>
<circle class="st" cx="40" cy="798.3" r="5.6"/>
<circle class="en" cx="60" cy="798.3" r="5.6"/>
<circle class="evt" cx="80" cy="798.3" r="5.6"/><circle class="evi" cx="80" cy="798.3" r="4.4"/><circle cx="80" cy="798.3" r="2.8" fill="#f3f1dc" stroke="#8a8040" stroke-width=".4"/>
<circle cx="108.3" cy="798.3" r="5.6" fill="#cbc58c" stroke="#a59c4c"/><circle class="evi" cx="108.3" cy="798.3" r="4.4"/><path d="M105.8 797.5 h2 v-1.6 l2.8 2.4 l-2.8 2.4 v-1.6 h-2 z" fill="#555"/>
<circle cx="140" cy="798.3" r="5.6" fill="#e6e2bd" stroke="#a59c4c"/><circle class="evi" cx="140" cy="798.3" r="4.4"/><path d="M137.5 797.5 h2 v-1.6 l2.8 2.4 l-2.8 2.4 v-1.6 h-2 z" fill="#fff" stroke="#777" stroke-width=".3"/>
<circle cx="170" cy="798.3" r="5.6" fill="#cbc58c" stroke="#a59c4c"/><circle class="evi" cx="170" cy="798.3" r="4.4"/><rect x="167.4" y="796.5" width="5.2" height="3.6" fill="#555"/><path d="M167.4 796.5 l2.6 1.9 l2.6 -1.9" stroke="#ccc" stroke-width=".4" fill="none"/>
<path class="gw" d="M201.7 791.3 L208.7 798.3 L201.7 805.3 L194.7 798.3 Z"/><path d="M201.7 795.3 V801.3 M198.7 798.3 H204.7" stroke="#8c9a1e" stroke-width="1.6"/>
<path class="gw" d="M228.3 791.3 L235.3 798.3 L228.3 805.3 L221.3 798.3 Z"/><path class="gx" d="M225.8 795.8 L230.8 800.8 M230.8 795.8 L225.8 800.8"/>
<path class="gw" d="M260 791.3 L267 798.3 L260 805.3 L253 798.3 Z"/><circle cx="260" cy="798.3" r="2.6" fill="none" stroke="#8c9a1e" stroke-width="1"/>
<path d="M286 791 V807.5 A9.5 2.6 0 0 0 305 807.5 V791 A9.5 2.6 0 0 0 286 791 A9.5 2.6 0 0 0 305 791" fill="#f4f4f4" stroke="#999" stroke-width=".6"/>
<path d="M314 787.3 H326.5 L330.7 791.5 V810 H314 Z" fill="#fafafa" stroke="#aaa" stroke-width=".6" filter="url(#ds)"/>
<path d="M721.7 787.7 H733 L737.3 792 V810 H721.7 Z" fill="#fafafa" stroke="#aaa" stroke-width=".6" filter="url(#ds)"/>
<g class="lg">
<text x="38.3" y="813">Início</text>
<text><tspan x="60" y="812.5">Fim do</tspan><tspan x="60" y="817">processo</tspan></text>
<text><tspan x="80" y="812.5">Evento de</tspan><tspan x="80" y="817">tempo</tspan></text>
<text><tspan x="108.3" y="812.5">Eventos de link</tspan><tspan x="108.3" y="817">(envio)</tspan></text>
<text><tspan x="140" y="812.5">Eventos de link</tspan><tspan x="140" y="817">(recebimento)</tspan></text>
<text><tspan x="170" y="812.5">Eventos de</tspan><tspan x="170" y="817">mensagem</tspan></text>
<text><tspan x="201.7" y="813">Gateway</tspan><tspan x="201.7" y="818">paralelo</tspan><tspan x="201.7" y="823">(ambos</tspan><tspan x="201.7" y="828">caminhos são</tspan><tspan x="201.7" y="833">seguidos)</tspan></text>
<text><tspan x="228.3" y="813">Gateway</tspan><tspan x="228.3" y="818">exclusivo</tspan><tspan x="228.3" y="823">(apenas um</tspan><tspan x="228.3" y="828">caminho é</tspan><tspan x="228.3" y="833">seguido)</tspan></text>
<text><tspan x="260" y="813">Gateway</tspan><tspan x="260" y="818">inclusivo (um ou</tspan><tspan x="260" y="823">mais caminhos</tspan><tspan x="260" y="828">podem ser</tspan><tspan x="260" y="833">seguidos)</tspan></text>
<text><tspan x="293.3" y="817">Sistema de</tspan><tspan x="293.3" y="821.5">informação</tspan></text>
<text x="322.7" y="815">Documento</text>
<text><tspan x="586.7" y="818.5">Subprocesso mapeado</tspan></text>
<text><tspan x="642.7" y="819">Subprocesso não mapeado ou</tspan><tspan x="642.7" y="824">ad-hoc (+)</tspan></text>
<text><tspan x="728.3" y="815">Pontos de</tspan><tspan x="728.3" y="820">controle de</tspan><tspan x="728.3" y="825">etapa</tspan></text>
</g>
<g filter="url(#ds)">
<rect class="t" x="341.7" y="782.7" width="41.6" height="30.6" rx="3"/>
<rect class="t" x="386.7" y="782.7" width="41" height="30.6" rx="3"/>
<rect class="t" x="432.3" y="782.7" width="41.7" height="30.6" rx="3"/>
<rect class="ty" x="477.7" y="782.7" width="41.6" height="30.6" rx="3"/>
<rect class="t" x="523.3" y="782.7" width="41.7" height="30.6" rx="3"/>
<rect class="t" x="567.7" y="782.7" width="40.6" height="30.6" rx="3"/>
<rect x="621.7" y="782.7" width="41" height="30.6" rx="3" fill="#fff" stroke="#bbb" stroke-width=".8"/>
<rect class="nt" x="671.7" y="786.7" width="38.3" height="23.3"/>
<rect x="746.7" y="786.7" width="57.3" height="23.3" fill="url(#gg)" stroke="#6aa860" stroke-width=".5"/>
<rect x="808.3" y="782.7" width="58.4" height="31.3" fill="#ffff9e" stroke="#dede8c" stroke-width=".6"/>
<rect x="870" y="786.7" width="65" height="23.3" fill="url(#gs)" stroke="#c0c0c0" stroke-width=".5"/>
</g>
<rect x="585.5" y="806.8" width="5.2" height="5" fill="#fff" stroke="#3d7fae" stroke-width=".6"/><path d="M588.1 807.7 V810.9 M586.5 809.3 H589.7" stroke="#3d7fae" stroke-width=".7"/>
<rect x="639.6" y="806.8" width="5.2" height="5" fill="#fff" stroke="#bbb" stroke-width=".6"/><path d="M642.2 807.7 V810.9 M640.6 809.3 H643.8" stroke="#bbb" stroke-width=".7"/>
<g class="ic">
<circle cx="346" cy="785.8" r="1.3"/><path d="M343.9 789.2 Q346 786.4 348.1 789.2 Z"/>
<circle cx="391.3" cy="787.3" r="2.3" fill="#cfe0ef" stroke-dasharray="1 .6"/>
<circle cx="436.5" cy="785.8" r="1.3"/><path d="M434.4 789.2 Q436.5 786.4 438.6 789.2 Z"/>
</g>
<g class="lg">
<text><tspan x="362.5" y="789.8">Atividades onde</tspan><tspan x="362.5" y="794.5">dados são</tspan><tspan x="362.5" y="799.2">inseridos ou</tspan><tspan x="362.5" y="803.9">consumidos por</tspan><tspan x="362.5" y="808.6">sistemas</tspan></text>
<text><tspan x="407.2" y="789.8">Atividade</tspan><tspan x="407.2" y="794.5">automática</tspan><tspan x="407.2" y="799.2">(executada</tspan><tspan x="407.2" y="803.9">automaticamente</tspan><tspan x="407.2" y="808.6">por sistema)</tspan></text>
<text><tspan x="453.2" y="789.8">Atividades manuais</tspan><tspan x="453.2" y="794.5">(para o lançamento</tspan><tspan x="453.2" y="799.2">ou consumo de</tspan><tspan x="453.2" y="803.9">dados em</tspan><tspan x="453.2" y="808.6">sistemas)</tspan></text>
<text><tspan x="498.5" y="793.5">Atividades</tspan><tspan x="498.5" y="798.5">automatizadas no</tspan><tspan x="498.5" y="803.5">recebimento</tspan></text>
<text fill="#d3202b"><tspan x="544.2" y="795.8">Atividades  que</tspan><tspan x="544.2" y="801">contém descritivo</tspan></text>
<text><tspan x="690.8" y="794">Anotações para</tspan><tspan x="690.8" y="798.5">complemento de</tspan><tspan x="690.8" y="803">entendimento</tspan></text>
<text font-size="4.2px"><tspan x="775.3" y="797">Atividade que possui</tspan><tspan x="775.3" y="803.5">indicador de processo</tspan></text>
<text font-size="4.2px"><tspan x="837.5" y="790.5">Sistemas ou atores</tspan><tspan x="837.5" y="797">que possuam algum</tspan><tspan x="837.5" y="803.5">sistema integrado ao</tspan><tspan x="837.5" y="810">SICONV</tspan></text>
<text font-size="4.2px"><tspan x="902.5" y="793">SICONV ou</tspan><tspan x="902.5" y="799.5">funcionalidades do</tspan><tspan x="902.5" y="806">SICONV</tspan></text>
</g>

<!-- bizagi -->
<text x="1881" y="847" font-size="8" fill="#a9bba9" font-weight="bold">bizagi</text>
<text x="1893" y="852" font-size="2.6" fill="#aaa">Modeler</text>
</svg>
</body></html>
